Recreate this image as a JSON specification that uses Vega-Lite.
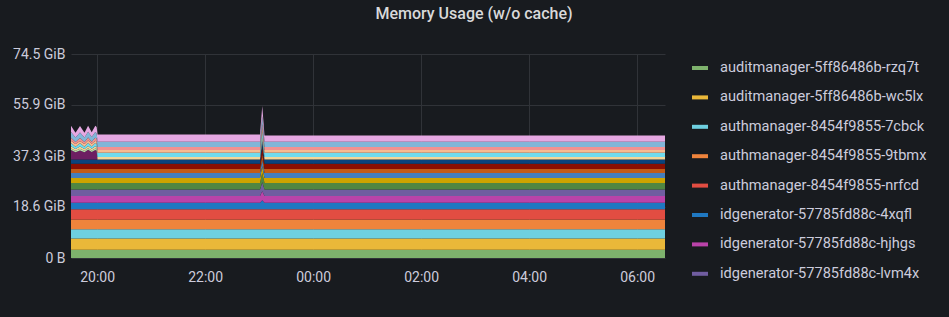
{
  "$schema": "https://vega.github.io/schema/vega-lite/v6.json",
  "width": 594,
  "height": 204,
  "autosize": {"type": "none"},
  "padding": {"left": 71, "top": 54, "right": 284, "bottom": 59},
  "background": "#181b1f",
  "title": {"text": "Memory Usage (w/o cache)", "anchor": "middle", "frame": "group", "dx": 106, "offset": 25, "fontSize": 16, "fontWeight": 500, "color": "#d8d9da", "font": "Roboto"},
  "datasets": {
    "series": [
      {"k":"a","name":"auditmanager-5ff86486b-rzq7t","ord":1},
      {"k":"b","name":"auditmanager-5ff86486b-wc5lx","ord":2},
      {"k":"c","name":"authmanager-8454f9855-7cbck","ord":3},
      {"k":"d","name":"authmanager-8454f9855-9tbmx","ord":4},
      {"k":"e","name":"authmanager-8454f9855-nrfcd","ord":5},
      {"k":"f","name":"idgenerator-57785fd88c-4xqfl","ord":6},
      {"k":"g","name":"idgenerator-57785fd88c-hjhgs","ord":7},
      {"k":"h","name":"idgenerator-57785fd88c-lvm4x","ord":8},
      {"k":"i","name":"keymanager-6d9f8c7b5-2jx8k","ord":9},
      {"k":"j","name":"keymanager-6d9f8c7b5-qp4vz","ord":10},
      {"k":"k","name":"masterdata-7b5c9d6f4-8hwrn","ord":11},
      {"k":"l","name":"masterdata-7b5c9d6f4-m2tkd","ord":12},
      {"k":"m","name":"notifier-64c8f7d9b-5zlqx","ord":13},
      {"k":"n","name":"partnermanager-5f7d8b6c9-t9gkw","ord":14},
      {"k":"o","name":"pridgenerator-7c9d5b8f6-xk2lp","ord":15},
      {"k":"p","name":"regproc-group1-6f8c7d9b5-4nvwz","ord":16},
      {"k":"q","name":"ridgenerator-8b6d5f7c9-jr7mt","ord":17},
      {"k":"r","name":"syncdata-5c7f9d8b6-w3hqs","ord":18},
      {"k":"s","name":"websub-6b8d7c5f9-pl6xn","ord":19},
      {"k":"t","name":"websub-consolidator-7d9c6b8f5-kz4rm","ord":20},
      {"k":"u","name":"zookeeper-0","ord":21},
      {"k":"v","name":"zookeeper-1","ord":22}
    ],
    "mem": [
      {"t":"2021-06-01T19:31:00Z","k":"a","v":3.0},{"t":"2021-06-01T19:31:00Z","k":"b","v":4.1},{"t":"2021-06-01T19:31:00Z","k":"c","v":3.4},{"t":"2021-06-01T19:31:00Z","k":"d","v":3.6},{"t":"2021-06-01T19:31:00Z","k":"e","v":3.7},{"t":"2021-06-01T19:31:00Z","k":"f","v":2.4},{"t":"2021-06-01T19:31:00Z","k":"g","v":2.4},{"t":"2021-06-01T19:31:00Z","k":"h","v":2.4},{"t":"2021-06-01T19:31:00Z","k":"i","v":2.4},{"t":"2021-06-01T19:31:00Z","k":"j","v":1.8},{"t":"2021-06-01T19:31:00Z","k":"k","v":1.8},{"t":"2021-06-01T19:31:00Z","k":"l","v":1.5},{"t":"2021-06-01T19:31:00Z","k":"m","v":1.9},{"t":"2021-06-01T19:31:00Z","k":"n","v":1.6},{"t":"2021-06-01T19:31:00Z","k":"o","v":3.4},{"t":"2021-06-01T19:31:00Z","k":"p","v":0.6},{"t":"2021-06-01T19:31:00Z","k":"q","v":0.8},{"t":"2021-06-01T19:31:00Z","k":"r","v":1.2},{"t":"2021-06-01T19:31:00Z","k":"s","v":0.8},{"t":"2021-06-01T19:31:00Z","k":"t","v":1.1},{"t":"2021-06-01T19:31:00Z","k":"u","v":2.1},{"t":"2021-06-01T19:31:00Z","k":"v","v":2.3},
      {"t":"2021-06-01T19:36:00Z","k":"a","v":3.0},{"t":"2021-06-01T19:36:00Z","k":"b","v":4.1},{"t":"2021-06-01T19:36:00Z","k":"c","v":3.4},{"t":"2021-06-01T19:36:00Z","k":"d","v":3.6},{"t":"2021-06-01T19:36:00Z","k":"e","v":3.7},{"t":"2021-06-01T19:36:00Z","k":"f","v":2.4},{"t":"2021-06-01T19:36:00Z","k":"g","v":2.4},{"t":"2021-06-01T19:36:00Z","k":"h","v":2.4},{"t":"2021-06-01T19:36:00Z","k":"i","v":2.4},{"t":"2021-06-01T19:36:00Z","k":"j","v":1.8},{"t":"2021-06-01T19:36:00Z","k":"k","v":1.8},{"t":"2021-06-01T19:36:00Z","k":"l","v":1.5},{"t":"2021-06-01T19:36:00Z","k":"m","v":1.9},{"t":"2021-06-01T19:36:00Z","k":"n","v":1.6},{"t":"2021-06-01T19:36:00Z","k":"o","v":2.6},{"t":"2021-06-01T19:36:00Z","k":"p","v":0.6},{"t":"2021-06-01T19:36:00Z","k":"q","v":0.6},{"t":"2021-06-01T19:36:00Z","k":"r","v":0.8},{"t":"2021-06-01T19:36:00Z","k":"s","v":1.0},{"t":"2021-06-01T19:36:00Z","k":"t","v":0.8},{"t":"2021-06-01T19:36:00Z","k":"u","v":1.6},{"t":"2021-06-01T19:36:00Z","k":"v","v":1.7},
      {"t":"2021-06-01T19:41:00Z","k":"a","v":3.0},{"t":"2021-06-01T19:41:00Z","k":"b","v":4.1},{"t":"2021-06-01T19:41:00Z","k":"c","v":3.4},{"t":"2021-06-01T19:41:00Z","k":"d","v":3.6},{"t":"2021-06-01T19:41:00Z","k":"e","v":3.7},{"t":"2021-06-01T19:41:00Z","k":"f","v":2.4},{"t":"2021-06-01T19:41:00Z","k":"g","v":2.4},{"t":"2021-06-01T19:41:00Z","k":"h","v":2.4},{"t":"2021-06-01T19:41:00Z","k":"i","v":2.4},{"t":"2021-06-01T19:41:00Z","k":"j","v":1.8},{"t":"2021-06-01T19:41:00Z","k":"k","v":1.8},{"t":"2021-06-01T19:41:00Z","k":"l","v":1.5},{"t":"2021-06-01T19:41:00Z","k":"m","v":1.9},{"t":"2021-06-01T19:41:00Z","k":"n","v":1.6},{"t":"2021-06-01T19:41:00Z","k":"o","v":3.3},{"t":"2021-06-01T19:41:00Z","k":"p","v":0.6},{"t":"2021-06-01T19:41:00Z","k":"q","v":0.8},{"t":"2021-06-01T19:41:00Z","k":"r","v":1.2},{"t":"2021-06-01T19:41:00Z","k":"s","v":0.8},{"t":"2021-06-01T19:41:00Z","k":"t","v":1.1},{"t":"2021-06-01T19:41:00Z","k":"u","v":2.0},{"t":"2021-06-01T19:41:00Z","k":"v","v":2.4},
      {"t":"2021-06-01T19:46:00Z","k":"a","v":3.0},{"t":"2021-06-01T19:46:00Z","k":"b","v":4.1},{"t":"2021-06-01T19:46:00Z","k":"c","v":3.4},{"t":"2021-06-01T19:46:00Z","k":"d","v":3.6},{"t":"2021-06-01T19:46:00Z","k":"e","v":3.7},{"t":"2021-06-01T19:46:00Z","k":"f","v":2.4},{"t":"2021-06-01T19:46:00Z","k":"g","v":2.4},{"t":"2021-06-01T19:46:00Z","k":"h","v":2.4},{"t":"2021-06-01T19:46:00Z","k":"i","v":2.4},{"t":"2021-06-01T19:46:00Z","k":"j","v":1.8},{"t":"2021-06-01T19:46:00Z","k":"k","v":1.8},{"t":"2021-06-01T19:46:00Z","k":"l","v":1.5},{"t":"2021-06-01T19:46:00Z","k":"m","v":1.9},{"t":"2021-06-01T19:46:00Z","k":"n","v":1.6},{"t":"2021-06-01T19:46:00Z","k":"o","v":2.6},{"t":"2021-06-01T19:46:00Z","k":"p","v":0.6},{"t":"2021-06-01T19:46:00Z","k":"q","v":0.6},{"t":"2021-06-01T19:46:00Z","k":"r","v":0.8},{"t":"2021-06-01T19:46:00Z","k":"s","v":1.0},{"t":"2021-06-01T19:46:00Z","k":"t","v":0.8},{"t":"2021-06-01T19:46:00Z","k":"u","v":1.6},{"t":"2021-06-01T19:46:00Z","k":"v","v":1.7},
      {"t":"2021-06-01T19:50:00Z","k":"a","v":3.0},{"t":"2021-06-01T19:50:00Z","k":"b","v":4.1},{"t":"2021-06-01T19:50:00Z","k":"c","v":3.4},{"t":"2021-06-01T19:50:00Z","k":"d","v":3.6},{"t":"2021-06-01T19:50:00Z","k":"e","v":3.7},{"t":"2021-06-01T19:50:00Z","k":"f","v":2.4},{"t":"2021-06-01T19:50:00Z","k":"g","v":2.4},{"t":"2021-06-01T19:50:00Z","k":"h","v":2.4},{"t":"2021-06-01T19:50:00Z","k":"i","v":2.4},{"t":"2021-06-01T19:50:00Z","k":"j","v":1.8},{"t":"2021-06-01T19:50:00Z","k":"k","v":1.8},{"t":"2021-06-01T19:50:00Z","k":"l","v":1.5},{"t":"2021-06-01T19:50:00Z","k":"m","v":1.9},{"t":"2021-06-01T19:50:00Z","k":"n","v":1.6},{"t":"2021-06-01T19:50:00Z","k":"o","v":3.5},{"t":"2021-06-01T19:50:00Z","k":"p","v":0.6},{"t":"2021-06-01T19:50:00Z","k":"q","v":0.8},{"t":"2021-06-01T19:50:00Z","k":"r","v":1.2},{"t":"2021-06-01T19:50:00Z","k":"s","v":0.8},{"t":"2021-06-01T19:50:00Z","k":"t","v":1.1},{"t":"2021-06-01T19:50:00Z","k":"u","v":2.1},{"t":"2021-06-01T19:50:00Z","k":"v","v":2.2},
      {"t":"2021-06-01T19:54:00Z","k":"a","v":3.0},{"t":"2021-06-01T19:54:00Z","k":"b","v":4.1},{"t":"2021-06-01T19:54:00Z","k":"c","v":3.4},{"t":"2021-06-01T19:54:00Z","k":"d","v":3.6},{"t":"2021-06-01T19:54:00Z","k":"e","v":3.7},{"t":"2021-06-01T19:54:00Z","k":"f","v":2.4},{"t":"2021-06-01T19:54:00Z","k":"g","v":2.4},{"t":"2021-06-01T19:54:00Z","k":"h","v":2.4},{"t":"2021-06-01T19:54:00Z","k":"i","v":2.4},{"t":"2021-06-01T19:54:00Z","k":"j","v":1.8},{"t":"2021-06-01T19:54:00Z","k":"k","v":1.8},{"t":"2021-06-01T19:54:00Z","k":"l","v":1.5},{"t":"2021-06-01T19:54:00Z","k":"m","v":1.9},{"t":"2021-06-01T19:54:00Z","k":"n","v":1.6},{"t":"2021-06-01T19:54:00Z","k":"o","v":2.7},{"t":"2021-06-01T19:54:00Z","k":"p","v":0.6},{"t":"2021-06-01T19:54:00Z","k":"q","v":0.6},{"t":"2021-06-01T19:54:00Z","k":"r","v":0.8},{"t":"2021-06-01T19:54:00Z","k":"s","v":1.0},{"t":"2021-06-01T19:54:00Z","k":"t","v":0.8},{"t":"2021-06-01T19:54:00Z","k":"u","v":1.7},{"t":"2021-06-01T19:54:00Z","k":"v","v":1.7},
      {"t":"2021-06-01T19:58:00Z","k":"a","v":3.0},{"t":"2021-06-01T19:58:00Z","k":"b","v":4.1},{"t":"2021-06-01T19:58:00Z","k":"c","v":3.4},{"t":"2021-06-01T19:58:00Z","k":"d","v":3.6},{"t":"2021-06-01T19:58:00Z","k":"e","v":3.7},{"t":"2021-06-01T19:58:00Z","k":"f","v":2.4},{"t":"2021-06-01T19:58:00Z","k":"g","v":2.4},{"t":"2021-06-01T19:58:00Z","k":"h","v":2.4},{"t":"2021-06-01T19:58:00Z","k":"i","v":2.4},{"t":"2021-06-01T19:58:00Z","k":"j","v":1.8},{"t":"2021-06-01T19:58:00Z","k":"k","v":1.8},{"t":"2021-06-01T19:58:00Z","k":"l","v":1.5},{"t":"2021-06-01T19:58:00Z","k":"m","v":1.9},{"t":"2021-06-01T19:58:00Z","k":"n","v":1.6},{"t":"2021-06-01T19:58:00Z","k":"o","v":3.4},{"t":"2021-06-01T19:58:00Z","k":"p","v":0.6},{"t":"2021-06-01T19:58:00Z","k":"q","v":0.8},{"t":"2021-06-01T19:58:00Z","k":"r","v":1.2},{"t":"2021-06-01T19:58:00Z","k":"s","v":0.8},{"t":"2021-06-01T19:58:00Z","k":"t","v":1.1},{"t":"2021-06-01T19:58:00Z","k":"u","v":2.1},{"t":"2021-06-01T19:58:00Z","k":"v","v":2.3},
      {"t":"2021-06-01T19:59:30Z","k":"a","v":3.0},{"t":"2021-06-01T19:59:30Z","k":"b","v":4.1},{"t":"2021-06-01T19:59:30Z","k":"c","v":3.4},{"t":"2021-06-01T19:59:30Z","k":"d","v":3.6},{"t":"2021-06-01T19:59:30Z","k":"e","v":3.7},{"t":"2021-06-01T19:59:30Z","k":"f","v":2.4},{"t":"2021-06-01T19:59:30Z","k":"g","v":2.4},{"t":"2021-06-01T19:59:30Z","k":"h","v":2.4},{"t":"2021-06-01T19:59:30Z","k":"i","v":2.4},{"t":"2021-06-01T19:59:30Z","k":"j","v":1.8},{"t":"2021-06-01T19:59:30Z","k":"k","v":1.8},{"t":"2021-06-01T19:59:30Z","k":"l","v":1.5},{"t":"2021-06-01T19:59:30Z","k":"m","v":1.9},{"t":"2021-06-01T19:59:30Z","k":"n","v":1.6},{"t":"2021-06-01T19:59:30Z","k":"o","v":3.2},{"t":"2021-06-01T19:59:30Z","k":"p","v":0.6},{"t":"2021-06-01T19:59:30Z","k":"q","v":0.8},{"t":"2021-06-01T19:59:30Z","k":"r","v":1.1},{"t":"2021-06-01T19:59:30Z","k":"s","v":0.8},{"t":"2021-06-01T19:59:30Z","k":"t","v":1.1},{"t":"2021-06-01T19:59:30Z","k":"u","v":2.0},{"t":"2021-06-01T19:59:30Z","k":"v","v":2.2},
      {"t":"2021-06-01T20:00:30Z","k":"a","v":3.0},{"t":"2021-06-01T20:00:30Z","k":"b","v":4.1},{"t":"2021-06-01T20:00:30Z","k":"c","v":3.4},{"t":"2021-06-01T20:00:30Z","k":"d","v":3.6},{"t":"2021-06-01T20:00:30Z","k":"e","v":3.7},{"t":"2021-06-01T20:00:30Z","k":"f","v":2.4},{"t":"2021-06-01T20:00:30Z","k":"g","v":2.4},{"t":"2021-06-01T20:00:30Z","k":"h","v":2.4},{"t":"2021-06-01T20:00:30Z","k":"i","v":2.4},{"t":"2021-06-01T20:00:30Z","k":"j","v":1.8},{"t":"2021-06-01T20:00:30Z","k":"k","v":1.8},{"t":"2021-06-01T20:00:30Z","k":"l","v":1.5},{"t":"2021-06-01T20:00:30Z","k":"m","v":1.9},{"t":"2021-06-01T20:00:30Z","k":"n","v":1.6},{"t":"2021-06-01T20:00:30Z","k":"o","v":0},{"t":"2021-06-01T20:00:30Z","k":"p","v":0},{"t":"2021-06-01T20:00:30Z","k":"q","v":0.9},{"t":"2021-06-01T20:00:30Z","k":"r","v":1.5},{"t":"2021-06-01T20:00:30Z","k":"s","v":1.0},{"t":"2021-06-01T20:00:30Z","k":"t","v":1.1},{"t":"2021-06-01T20:00:30Z","k":"u","v":2.0},{"t":"2021-06-01T20:00:30Z","k":"v","v":2.6},
      {"t":"2021-06-01T23:01:00Z","k":"a","v":3.0},{"t":"2021-06-01T23:01:00Z","k":"b","v":4.1},{"t":"2021-06-01T23:01:00Z","k":"c","v":3.4},{"t":"2021-06-01T23:01:00Z","k":"d","v":3.6},{"t":"2021-06-01T23:01:00Z","k":"e","v":3.7},{"t":"2021-06-01T23:01:00Z","k":"f","v":2.4},{"t":"2021-06-01T23:01:00Z","k":"g","v":2.4},{"t":"2021-06-01T23:01:00Z","k":"h","v":2.4},{"t":"2021-06-01T23:01:00Z","k":"i","v":2.4},{"t":"2021-06-01T23:01:00Z","k":"j","v":1.8},{"t":"2021-06-01T23:01:00Z","k":"k","v":1.8},{"t":"2021-06-01T23:01:00Z","k":"l","v":1.5},{"t":"2021-06-01T23:01:00Z","k":"m","v":1.9},{"t":"2021-06-01T23:01:00Z","k":"n","v":1.6},{"t":"2021-06-01T23:01:00Z","k":"o","v":0},{"t":"2021-06-01T23:01:00Z","k":"p","v":0},{"t":"2021-06-01T23:01:00Z","k":"q","v":0.9},{"t":"2021-06-01T23:01:00Z","k":"r","v":1.5},{"t":"2021-06-01T23:01:00Z","k":"s","v":1.0},{"t":"2021-06-01T23:01:00Z","k":"t","v":1.1},{"t":"2021-06-01T23:01:00Z","k":"u","v":2.0},{"t":"2021-06-01T23:01:00Z","k":"v","v":2.6},
      {"t":"2021-06-01T23:03:30Z","k":"a","v":3.0},{"t":"2021-06-01T23:03:30Z","k":"b","v":4.1},{"t":"2021-06-01T23:03:30Z","k":"c","v":3.4},{"t":"2021-06-01T23:03:30Z","k":"d","v":3.6},{"t":"2021-06-01T23:03:30Z","k":"e","v":3.7},{"t":"2021-06-01T23:03:30Z","k":"f","v":3.3},{"t":"2021-06-01T23:03:30Z","k":"g","v":3.3},{"t":"2021-06-01T23:03:30Z","k":"h","v":3.3},{"t":"2021-06-01T23:03:30Z","k":"i","v":3.3},{"t":"2021-06-01T23:03:30Z","k":"j","v":2.5},{"t":"2021-06-01T23:03:30Z","k":"k","v":2.5},{"t":"2021-06-01T23:03:30Z","k":"l","v":2.1},{"t":"2021-06-01T23:03:30Z","k":"m","v":2.6},{"t":"2021-06-01T23:03:30Z","k":"n","v":2.2},{"t":"2021-06-01T23:03:30Z","k":"o","v":0},{"t":"2021-06-01T23:03:30Z","k":"p","v":0},{"t":"2021-06-01T23:03:30Z","k":"q","v":1.2},{"t":"2021-06-01T23:03:30Z","k":"r","v":2.1},{"t":"2021-06-01T23:03:30Z","k":"s","v":1.4},{"t":"2021-06-01T23:03:30Z","k":"t","v":1.5},{"t":"2021-06-01T23:03:30Z","k":"u","v":2.8},{"t":"2021-06-01T23:03:30Z","k":"v","v":3.6},
      {"t":"2021-06-01T23:06:00Z","k":"a","v":3.0},{"t":"2021-06-01T23:06:00Z","k":"b","v":4.1},{"t":"2021-06-01T23:06:00Z","k":"c","v":3.4},{"t":"2021-06-01T23:06:00Z","k":"d","v":3.6},{"t":"2021-06-01T23:06:00Z","k":"e","v":3.7},{"t":"2021-06-01T23:06:00Z","k":"f","v":2.4},{"t":"2021-06-01T23:06:00Z","k":"g","v":2.4},{"t":"2021-06-01T23:06:00Z","k":"h","v":2.4},{"t":"2021-06-01T23:06:00Z","k":"i","v":2.4},{"t":"2021-06-01T23:06:00Z","k":"j","v":1.8},{"t":"2021-06-01T23:06:00Z","k":"k","v":1.8},{"t":"2021-06-01T23:06:00Z","k":"l","v":1.5},{"t":"2021-06-01T23:06:00Z","k":"m","v":1.9},{"t":"2021-06-01T23:06:00Z","k":"n","v":1.6},{"t":"2021-06-01T23:06:00Z","k":"o","v":0},{"t":"2021-06-01T23:06:00Z","k":"p","v":0},{"t":"2021-06-01T23:06:00Z","k":"q","v":0.9},{"t":"2021-06-01T23:06:00Z","k":"r","v":1.5},{"t":"2021-06-01T23:06:00Z","k":"s","v":1.0},{"t":"2021-06-01T23:06:00Z","k":"t","v":1.1},{"t":"2021-06-01T23:06:00Z","k":"u","v":2.0},{"t":"2021-06-01T23:06:00Z","k":"v","v":2.2},
      {"t":"2021-06-02T06:31:00Z","k":"a","v":3.0},{"t":"2021-06-02T06:31:00Z","k":"b","v":4.1},{"t":"2021-06-02T06:31:00Z","k":"c","v":3.4},{"t":"2021-06-02T06:31:00Z","k":"d","v":3.6},{"t":"2021-06-02T06:31:00Z","k":"e","v":3.7},{"t":"2021-06-02T06:31:00Z","k":"f","v":2.4},{"t":"2021-06-02T06:31:00Z","k":"g","v":2.4},{"t":"2021-06-02T06:31:00Z","k":"h","v":2.4},{"t":"2021-06-02T06:31:00Z","k":"i","v":2.4},{"t":"2021-06-02T06:31:00Z","k":"j","v":1.8},{"t":"2021-06-02T06:31:00Z","k":"k","v":1.8},{"t":"2021-06-02T06:31:00Z","k":"l","v":1.5},{"t":"2021-06-02T06:31:00Z","k":"m","v":1.9},{"t":"2021-06-02T06:31:00Z","k":"n","v":1.6},{"t":"2021-06-02T06:31:00Z","k":"o","v":0},{"t":"2021-06-02T06:31:00Z","k":"p","v":0},{"t":"2021-06-02T06:31:00Z","k":"q","v":0.9},{"t":"2021-06-02T06:31:00Z","k":"r","v":1.5},{"t":"2021-06-02T06:31:00Z","k":"s","v":1.0},{"t":"2021-06-02T06:31:00Z","k":"t","v":1.1},{"t":"2021-06-02T06:31:00Z","k":"u","v":2.0},{"t":"2021-06-02T06:31:00Z","k":"v","v":2.2}
    ]
  },
  "data": {"name": "mem"},
  "transform": [
    {"lookup": "k", "from": {"data": {"name": "series"}, "key": "k", "fields": ["name", "ord"]}}
  ],
  "mark": {"type": "area", "interpolate": "linear"},
  "encoding": {
    "x": {
      "field": "t", "type": "temporal",
      "scale": {"type": "utc", "nice": false},
      "axis": {"title": null, "format": "%H:%M", "values": [1622577600000, 1622584800000, 1622592000000, 1622599200000, 1622606400000, 1622613600000], "ticks": false, "domain": false, "grid": true, "gridColor": "#303338", "labelColor": "#ccccdc", "labelFont": "Roboto", "labelFontSize": 14, "labelPadding": 12, "labelFlush": false}
    },
    "y": {
      "field": "v", "type": "quantitative", "stack": "zero",
      "scale": {"domain": [0, 74.5058], "nice": false},
      "axis": {"title": null, "values": [0, 18.6265, 37.2529, 55.8794, 74.5058], "labelExpr": "datum.value == 0 ? '0 B' : format(datum.value, '.1f') + ' GiB'", "ticks": false, "domain": false, "grid": true, "gridColor": "#303338", "labelColor": "#ccccdc", "labelFont": "Roboto", "labelFontSize": 14, "labelPadding": 6}
    },
    "color": {
      "field": "name", "type": "nominal",
      "scale": {
        "domain": ["auditmanager-5ff86486b-rzq7t","auditmanager-5ff86486b-wc5lx","authmanager-8454f9855-7cbck","authmanager-8454f9855-9tbmx","authmanager-8454f9855-nrfcd","idgenerator-57785fd88c-4xqfl","idgenerator-57785fd88c-hjhgs","idgenerator-57785fd88c-lvm4x","keymanager-6d9f8c7b5-2jx8k","keymanager-6d9f8c7b5-qp4vz","masterdata-7b5c9d6f4-8hwrn","masterdata-7b5c9d6f4-m2tkd","notifier-64c8f7d9b-5zlqx","partnermanager-5f7d8b6c9-t9gkw","pridgenerator-7c9d5b8f6-xk2lp","regproc-group1-6f8c7d9b5-4nvwz","ridgenerator-8b6d5f7c9-jr7mt","syncdata-5c7f9d8b6-w3hqs","websub-6b8d7c5f9-pl6xn","websub-consolidator-7d9c6b8f5-kz4rm","zookeeper-0","zookeeper-1"],
        "range": ["#7EB26D","#EAB839","#6ED0E0","#EF843C","#E24D42","#1F78C1","#BA43A9","#705DA0","#508642","#CCA300","#447EBC","#C15C17","#890F02","#0A437C","#6D1F62","#B7DBAB","#F4D598","#70DBED","#F9BA8F","#F29191","#82B5D8","#E5A8E2"]
      },
      "legend": {
        "values": ["auditmanager-5ff86486b-rzq7t","auditmanager-5ff86486b-wc5lx","authmanager-8454f9855-7cbck","authmanager-8454f9855-9tbmx","authmanager-8454f9855-nrfcd","idgenerator-57785fd88c-4xqfl","idgenerator-57785fd88c-hjhgs","idgenerator-57785fd88c-lvm4x"],
        "title": null, "orient": "none", "legendX": 621, "legendY": 6,
        "symbolType": "M-1,-0.25L1,-0.25L1,0.25L-1,0.25Z", "symbolSize": 256, "symbolStrokeWidth": 0, "symbolOpacity": 1,
        "labelFontSize": 14.6, "labelColor": "#ccccdc", "labelFont": "Roboto", "labelOffset": 12, "rowPadding": 14.4, "labelLimit": 300
      }
    },
    "order": {"field": "ord", "type": "quantitative", "sort": "ascending"}
  },
  "config": {"view": {"stroke": null}}
}
